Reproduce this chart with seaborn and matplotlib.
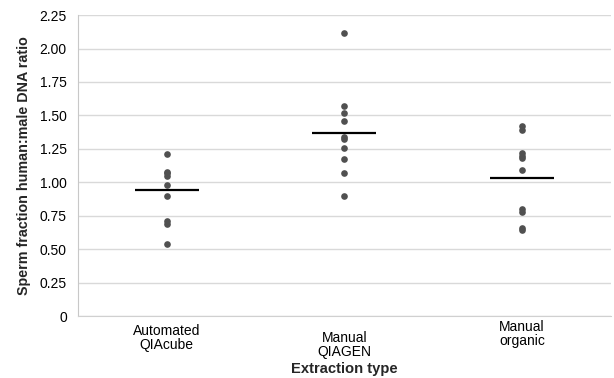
import pandas as pd
import seaborn as sns
import matplotlib.pyplot as plt
from matplotlib.transforms import ScaledTranslation
from matplotlib.ticker import FuncFormatter

# values
categories = ['Automated\nQIAcube', 'Manual\nQIAGEN', 'Manual\norganic']
qiacube = [1.21, 1.08, 1.07, 1.05, 0.98, 0.90, 0.71, 0.69, 0.54]
qiagen = [2.12, 1.57, 1.52, 1.46, 1.335, 1.32, 1.26, 1.175, 1.07, 0.90]
organic = [1.42, 1.39, 1.22, 1.20, 1.18, 1.09, 0.80, 0.78, 0.66, 0.64]
means = [0.94, 1.37, 1.03]
label_drop = [0.0, 0.07, -0.04]  # inches, Excel-style staggered labels

df = pd.DataFrame({
    'type': [categories[0]] * len(qiacube) + [categories[1]] * len(qiagen) + [categories[2]] * len(organic),
    'ratio': qiacube + qiagen + organic,
})

sns.set_style('white')
plt.rcParams['font.family'] = ['Liberation Sans', 'DejaVu Sans']

fig, ax = plt.subplots(figsize=(6.14, 3.78), dpi=100)
fig.subplots_adjust(left=0.127, right=0.995, top=0.96, bottom=0.164)

sns.stripplot(data=df, x='type', y='ratio', order=categories, jitter=False,
              color='#505050', size=4.8, linewidth=0, ax=ax, zorder=3)

# mean lines
for i, m in enumerate(means):
    ax.hlines(m, i - 0.18, i + 0.18, color='black', linewidth=1.6, zorder=4)

ax.set_xlim(-0.5, 2.5)
ax.set_ylim(0, 2.25)
ax.set_yticks([i * 0.25 for i in range(10)])
ax.yaxis.set_major_formatter(FuncFormatter(lambda v, p: '0' if v == 0 else f'{v:.2f}'))
ax.grid(axis='y', color='#d9d9d9', linewidth=1)
ax.set_axisbelow(True)
for s in ['top', 'right']:
    ax.spines[s].set_visible(False)
ax.spines['left'].set_color('#c8c8c8')
ax.spines['bottom'].set_color('#d0d0d0')
ax.tick_params(axis='both', length=0, labelsize=10, colors='black')
ax.tick_params(axis='x', pad=6)
ax.tick_params(axis='y', pad=8)

for lab, d in zip(ax.get_xticklabels(), label_drop):
    lab.set_transform(lab.get_transform() + ScaledTranslation(0, -d, fig.dpi_scale_trans))
    lab.set_linespacing(1.0)

ax.set_xlabel('Extraction type', fontsize=10.6, fontweight='bold', labelpad=2)
ax.set_ylabel('Sperm fraction human:male DNA ratio', fontsize=10.3, fontweight='bold', labelpad=6)

plt.savefig('out.png', dpi=100)
